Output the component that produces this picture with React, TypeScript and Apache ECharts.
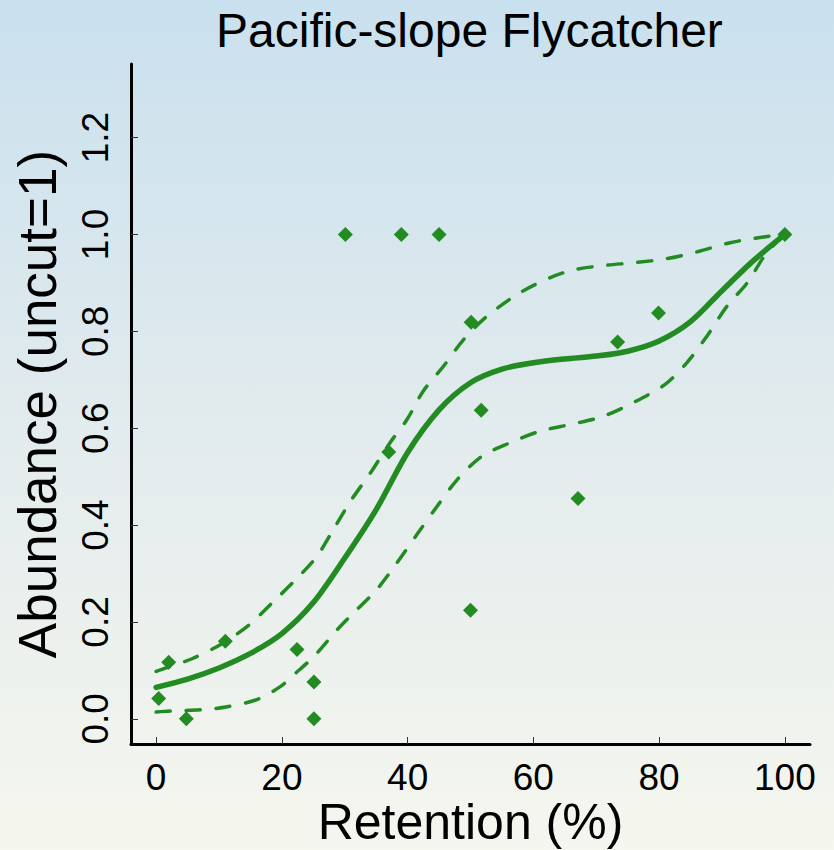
import React, { useEffect, useRef } from "react";
import * as echarts from "echarts";

const title = "Pacific-slope Flycatcher";
const xName = "Retention (%)";
const yName = "Abundance (uncut=1)";

const xTicks = [0, 20, 40, 60, 80, 100];
const yTicks = [0, 0.2, 0.4, 0.6, 0.8, 1.0, 1.2];

// observed points
const pointX = [0.4, 2.0, 4.8, 11.0, 22.4, 25.1, 25.1, 30.1, 39.0, 45.0, 37.0, 50.1, 51.7, 50.0, 67.1, 73.4, 79.9, 100];
const pointY = [0.042, 0.117, 0.0, 0.16, 0.143, 0.076, 0.0, 1.0, 1.0, 1.0, 0.551, 0.819, 0.637, 0.224, 0.455, 0.778, 0.838, 1.0];

// fitted curve
const fitX = [0, 5, 10, 15, 20, 25, 30, 35, 40, 45, 50, 55, 60, 65, 70, 75, 80, 85, 90, 95, 100];
const fitY = [0.065, 0.082, 0.105, 0.135, 0.176, 0.24, 0.332, 0.432, 0.55, 0.638, 0.694, 0.722, 0.735, 0.743, 0.749, 0.759, 0.78, 0.82, 0.884, 0.946, 1.0];

// upper confidence band
const upX = [0, 2, 5.7, 10.2, 14.5, 18.5, 22.7, 25.6, 28.2, 30.9, 34.1, 37.2, 39.9, 42.5, 45.7, 48.9, 52.6, 57.9, 62.7, 66.4, 71.2, 76.2, 81.2, 86.0, 91.3, 96.6, 100];
const upY = [0.098, 0.107, 0.124, 0.153, 0.191, 0.24, 0.294, 0.336, 0.391, 0.449, 0.508, 0.57, 0.618, 0.677, 0.728, 0.783, 0.831, 0.88, 0.911, 0.927, 0.936, 0.942, 0.95, 0.964, 0.983, 0.995, 1.0];

// lower confidence band
const loX = [0, 2.3, 7.6, 11.3, 16.1, 19.8, 21.9, 25.1, 28.8, 31.5, 35.1, 38.3, 41.5, 44.7, 47.9, 51.8, 56.3, 61.1, 66.4, 71.2, 75.9, 80.9, 84.4, 87.6, 90.8, 94.0, 97.1, 100];
const loY = [0.014, 0.016, 0.019, 0.025, 0.04, 0.067, 0.091, 0.129, 0.184, 0.22, 0.267, 0.322, 0.381, 0.439, 0.494, 0.542, 0.57, 0.594, 0.609, 0.625, 0.653, 0.69, 0.735, 0.79, 0.852, 0.9, 0.962, 1.0];

const GREEN = "#228B22";
const FONT = "'Liberation Sans', Arial, Helvetica, sans-serif";

const zip = (xs: number[], ys: number[]) => xs.map((x, i) => [x, ys[i]]);

export default function App() {
  const ref = useRef<HTMLDivElement>(null);
  useEffect(() => {
    document.body.style.margin = "0";
    const chart = echarts.init(ref.current!, null, { renderer: "svg" });
    chart.setOption({
      animation: false,
      backgroundColor: new echarts.graphic.LinearGradient(0, 0, 0, 1, [
        { offset: 0, color: "#c9e0ee" },
        { offset: 0.5, color: "#e2ebed" },
        { offset: 1, color: "#f5f6ee" },
      ]),
      title: {
        text: title,
        left: 211,
        top: 1,
        textStyle: { fontFamily: FONT, fontSize: 48, fontWeight: "normal", color: "#000" },
      },
      grid: { left: 131, right: 24, top: 64, bottom: 106, containLabel: false, outerBoundsMode: "none" },
      xAxis: {
        type: "value",
        min: -4,
        max: 104,
        name: xName,
        nameLocation: "middle",
        nameGap: 58,
        nameMoveOverlap: false,
        nameTextStyle: { fontFamily: FONT, fontSize: 50, lineHeight: 40, color: "#000" },
        axisLine: { onZero: false, lineStyle: { color: "#000", width: 3, cap: "round" } },
        axisTick: { inside: true, length: 7, customValues: xTicks, lineStyle: { color: "#333", width: 1 } },
        axisLabel: { customValues: xTicks, margin: 18, lineHeight: 30, fontFamily: FONT, fontSize: 37, color: "#000" },
        splitLine: { show: false },
      },
      yAxis: {
        type: "value",
        min: -0.052,
        max: 1.352,
        name: yName,
        nameLocation: "middle",
        nameGap: 67,
        nameMoveOverlap: false,
        nameTextStyle: { fontFamily: FONT, fontSize: 53, color: "#000" },
        axisLine: { onZero: false, lineStyle: { color: "#000", width: 3, cap: "round" } },
        axisTick: { inside: true, length: 7, customValues: yTicks, lineStyle: { color: "#333", width: 1 } },
        axisLabel: {
          customValues: yTicks,
          rotate: 90,
          margin: 17,
          fontFamily: FONT,
          fontSize: 37,
          color: "#000",
          formatter: (v: number) => v.toFixed(1),
        },
        splitLine: { show: false },
      },
      series: [
        {
          type: "line",
          data: zip(upX, upY),
          smooth: 0.3,
          showSymbol: false,
          lineStyle: { color: GREEN, width: 3.5, type: [14, 16], cap: "round" },
          z: 2,
        },
        {
          type: "line",
          data: zip(loX, loY),
          smooth: 0.3,
          showSymbol: false,
          lineStyle: { color: GREEN, width: 3.5, type: [14, 16], cap: "round" },
          z: 2,
        },
        {
          type: "line",
          data: zip(fitX, fitY),
          smooth: 0.3,
          showSymbol: false,
          lineStyle: { color: GREEN, width: 5.5, cap: "round" },
          z: 3,
        },
        {
          type: "scatter",
          data: zip(pointX, pointY),
          symbol: "diamond",
          symbolSize: 15,
          itemStyle: { color: GREEN, opacity: 1 },
          z: 4,
        },
      ],
    });
    return () => chart.dispose();
  }, []);
  return <div ref={ref} style={{ width: 834, height: 850 }} />;
}
